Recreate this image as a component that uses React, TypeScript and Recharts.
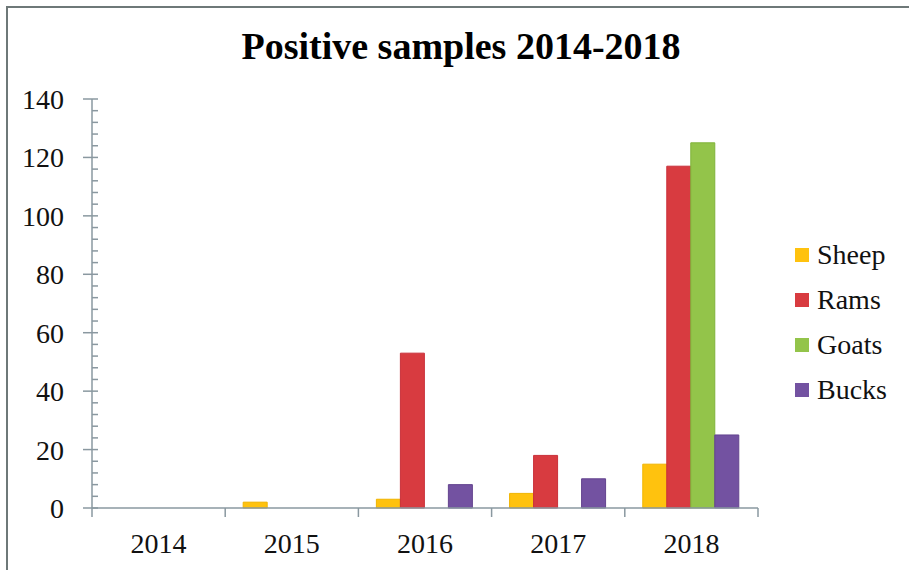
import { BarChart, Bar, XAxis, YAxis, Legend } from 'recharts'

const years = ['2014', '2015', '2016', '2017', '2018']
const sheep = [0, 2, 3, 5, 15]
const rams = [0, 0, 53, 18, 117]
const goats = [0, 0, 0, 0, 125]
const bucks = [0, 0, 8, 10, 25]

// every 4 units a minor tick, labels only every 20
const yTicks = Array.from({ length: 36 }, (_, i) => i * 4)

const series = [
  { key: 'Sheep', fill: '#FFC20E', stroke: '#F0B400' },
  { key: 'Rams', fill: '#D83B40', stroke: '#C9303A' },
  { key: 'Goats', fill: '#93C44A', stroke: '#7FB33A' },
  { key: 'Bucks', fill: '#7352A1', stroke: '#63448F' },
]

const data = years.map((year, i) => ({
  year,
  Sheep: sheep[i],
  Rams: rams[i],
  Goats: goats[i],
  Bucks: bucks[i],
}))

const axisColor = '#8A98A0'
const font = '"Liberation Serif", "Times New Roman", serif'

function YTick({ x, y, payload }: any) {
  const major = payload.value % 20 === 0
  return (
    <g>
      <line x1={major ? x - 9 : x} x2={x + 6} y1={y} y2={y} stroke={axisColor} strokeWidth={1.5} />
      {major && (
        <text x={x - 28} y={y} dy="0.355em" textAnchor="end" fill="#111" fontFamily={font} fontSize={28}>
          {payload.value}
        </text>
      )}
    </g>
  )
}

function XTick({ x, y, payload, index, visibleTicksCount, width }: any) {
  const half = payload.offset || width / (visibleTicksCount || 5) / 2
  const last = index === (visibleTicksCount || 5) - 1
  return (
    <g>
      <line x1={x - half} x2={x - half} y1={y} y2={y + 9} stroke={axisColor} strokeWidth={1.5} />
      {last && <line x1={x + half} x2={x + half} y1={y} y2={y + 9} stroke={axisColor} strokeWidth={1.5} />}
      <text x={x} y={y + 25} dy="0.71em" textAnchor="middle" fill="#111" fontFamily={font} fontSize={28}>
        {payload.value}
      </text>
    </g>
  )
}

function LegendList() {
  return (
    <div style={{ fontFamily: font, fontSize: 28, color: '#111' }}>
      {series.map((s) => (
        <div key={s.key} style={{ display: 'flex', alignItems: 'center', height: 45 }}>
          <span style={{ width: 14, height: 14, background: s.fill, display: 'inline-block', marginRight: 8 }} />
          <span style={{ fontFamily: font }}>{s.key}</span>
        </div>
      ))}
    </div>
  )
}

export default function App() {
  return (
    <div style={{ position: 'absolute', left: 0, top: 0, width: 909, height: 570, background: '#fff', overflow: 'hidden' }}>
      <div
        style={{
          position: 'absolute',
          left: 6,
          top: 6,
          width: 910,
          height: 570,
          borderLeft: '2px solid #6E7878',
          borderTop: '2px solid #6E7878',
        }}
      />
      <div
        style={{
          position: 'absolute',
          left: 0,
          width: 922,
          top: 24,
          textAlign: 'center',
          fontFamily: font,
          fontWeight: 'bold',
          fontSize: 38,
          color: '#000',
        }}
      >
        Positive samples 2014-2018
      </div>
      <div style={{ position: 'absolute', left: 0, top: 0 }}>
        <BarChart
          width={909}
          height={570}
          data={data}
          margin={{ top: 99, right: 41, bottom: 0, left: 0 }}
          barCategoryGap="13.5%"
          barGap={0}
        >
          <XAxis
            dataKey="year"
            height={62}
            tickLine={false}
            tickSize={0}
            tickMargin={0}
            axisLine={{ stroke: axisColor, strokeWidth: 1.5 }}
            tick={<XTick />}
            interval={0}
          />
          <YAxis
            width={92}
            domain={[0, 140]}
            ticks={yTicks}
            tickLine={false}
            tickSize={0}
            tickMargin={0}
            axisLine={{ stroke: axisColor, strokeWidth: 1.5 }}
            tick={<YTick />}
            interval={0}
          />
          <Legend
            layout="vertical"
            align="right"
            verticalAlign="top"
            content={<LegendList />}
            wrapperStyle={{ left: 795, top: 232, width: 110 }}
          />
          {series.map((s) => (
            <Bar
              key={s.key}
              dataKey={s.key}
              fill={s.fill}
              stroke={s.stroke}
              strokeWidth={1}
              isAnimationActive={false}
            />
          ))}
        </BarChart>
      </div>
    </div>
  )
}
